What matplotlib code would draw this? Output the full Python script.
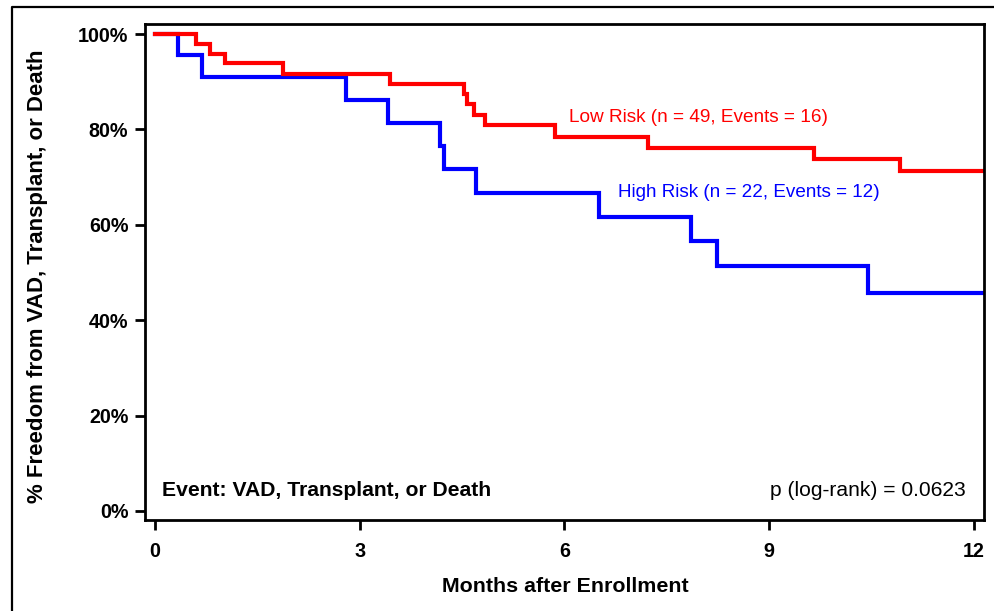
import matplotlib.pyplot as plt
from matplotlib.lines import Line2D
from matplotlib.ticker import FuncFormatter

plt.rcParams['font.family'] = ['Liberation Sans', 'DejaVu Sans']

# Kaplan-Meier estimates (months, % event free)
low_months = [0, 0.60, 0.80, 1.03, 1.88, 3.45, 4.53, 4.57, 4.67, 4.84, 5.86, 7.23, 9.66, 10.91, 12.2]
low_surv = [100, 98.0, 95.9, 93.9, 91.7, 89.6, 87.5, 85.3, 83.1, 80.9, 78.5, 76.0, 73.7, 71.3, 71.3]

high_months = [0, 0.33, 0.69, 2.80, 3.42, 4.18, 4.24, 4.70, 6.51, 7.85, 8.24, 10.45, 12.2]
high_surv = [100, 95.5, 90.9, 86.2, 81.4, 76.5, 71.8, 66.7, 61.6, 56.5, 51.3, 45.6, 45.6]

x_ticks = [0, 3, 6, 9, 12]
y_ticks = [0, 20, 40, 60, 80, 100]

fig = plt.figure(figsize=(9.94, 6.11), dpi=100)
ax = fig.add_axes([145 / 994, 91 / 611, 839 / 994, 496 / 611])

ax.step(high_months, high_surv, where='post', color='#0000ff', lw=3.0, solid_joinstyle='miter')
ax.step(low_months, low_surv, where='post', color='#ff0000', lw=3.0, solid_joinstyle='miter')

ax.set_xlim(-0.147, 12.147)
ax.set_ylim(-1.9, 102.1)
ax.set_xticks(x_ticks)
ax.set_yticks(y_ticks)
ax.yaxis.set_major_formatter(FuncFormatter(lambda v, p: f"{v:.0f}%"))

for s in ax.spines.values():
    s.set_linewidth(2.0)
ax.tick_params(axis='both', direction='out', length=7, width=2.0, labelsize=14.2)
ax.tick_params(axis='y', pad=5)
ax.tick_params(axis='x', pad=8.5)
for lab in ax.get_xticklabels() + ax.get_yticklabels():
    lab.set_fontweight('bold')

ax.set_xlabel("Months after Enrollment", fontsize=15.4, fontweight='bold')
ax.set_ylabel("% Freedom from VAD, Transplant, or Death", fontsize=16, fontweight='bold')
ax.xaxis.set_label_coords(0.501, -0.114)
ax.yaxis.set_label_coords(-0.1156, 0.492)

ax.text(6.07, 82.6, "Low Risk (n = 49, Events = 16)", color='#ff0000', fontsize=13.7, va='center', ha='left')
ax.text(6.78, 66.7, "High Risk (n = 22, Events = 12)", color='#0000ff', fontsize=13.6, va='center', ha='left')
ax.text(0.02, 0.0585, "Event: VAD, Transplant, or Death", transform=ax.transAxes,
        fontsize=15.2, fontweight='bold', va='center', ha='left')
ax.text(0.9785, 0.0585, "p (log-rank) = 0.0623", transform=ax.transAxes,
        fontsize=15.1, va='center', ha='right')

# outer frame (cropped at right and bottom in the original)
fx = 12 / 994
fy = 1 - 7 / 611
fig.add_artist(Line2D([fx, fx, 1.0], [0.0, fy, fy], transform=fig.transFigure,
                      color='black', lw=1.6))

fig.savefig("out.png", dpi=100)
